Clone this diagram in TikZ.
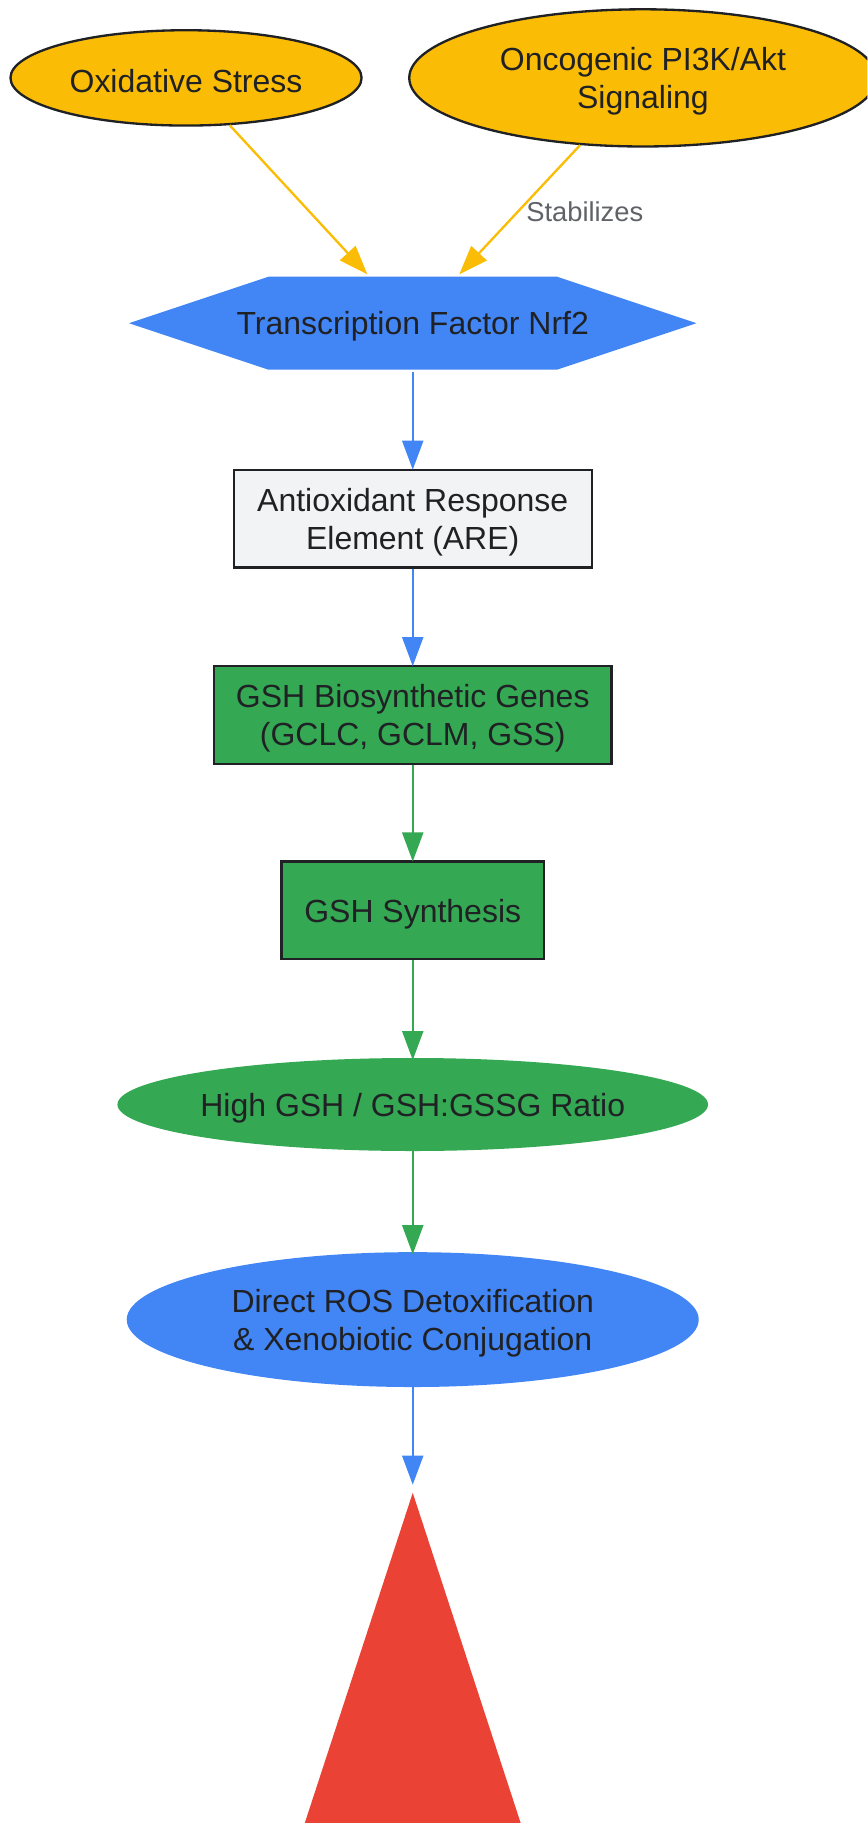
\documentclass[tikz,border=0pt]{standalone}
\usepackage{fontspec}
\setmainfont{Liberation Sans}
\usetikzlibrary{arrows.meta,shapes.geometric}
\definecolor{gyellow}{HTML}{FBBC05}
\definecolor{gblue}{HTML}{4285F4}
\definecolor{ggreen}{HTML}{34A853}
\definecolor{gred}{HTML}{EA4335}
\definecolor{glight}{HTML}{F1F3F4}
\definecolor{gdark}{HTML}{202124}
\definecolor{ggray}{HTML}{5F6368}
\begin{document}
\begin{tikzpicture}[x=1pt,y=-1pt,
  lbl/.style={font=\fontsize{27.5}{33}\selectfont, text=gdark, align=center, inner sep=0pt},
  ell/.style={ellipse, inner sep=0pt},
  boxn/.style={rectangle, inner sep=0pt, minimum height=84pt},
  bord/.style={draw=gdark, line width=2pt},
  conn/.style={line width=2pt, -{Triangle[length=25pt,width=18pt]}},
  elab/.style={font=\fontsize{23.5}{28}\selectfont, text=ggray}]
\useasboundingbox (0,0) rectangle (746,1568);
\clip (0,0) rectangle (746,1568);
% shapes
\node[ell, bord, fill=gyellow, minimum width=302pt, minimum height=82pt] (ox) at (160,67) {};
\node[ell, bord, fill=gyellow, minimum width=402pt, minimum height=118pt] (onc) at (553,67) {};
\fill[gblue] (111,278) -- (231,238) -- (479,238) -- (599,278) -- (479,318) -- (231,318) -- cycle;
\node[boxn, minimum width=248pt, minimum height=80pt] (nrf) at (355,278) {};
\node[boxn, bord, fill=glight, minimum width=308pt] (are) at (355,446) {};
\node[boxn, bord, fill=ggreen, minimum width=342pt] (genes) at (355,615) {};
\node[boxn, bord, fill=ggreen, minimum width=226pt] (synth) at (355,783) {};
\node[ell, fill=ggreen, minimum width=508pt, minimum height=80pt] (ratio) at (355,950) {};
\node[ell, fill=gblue, minimum width=492pt, minimum height=116pt] (ros) at (355,1135) {};
\fill[gred] (355,1284) -- (491,1700) -- (219,1700) -- cycle;
% texts
\node[lbl] (oxT) at ([yshift=-3pt]ox.center) {Oxidative Stress};
\node[lbl] (oncT) at ([yshift=-3pt]onc.center) {Oncogenic PI3K/Akt\\Signaling};
\node[lbl] (nrfT) at ([yshift=-3pt]nrf.center) {Transcription Factor Nrf2};
\node[lbl] (areT) at ([yshift=-3pt]are.center) {Antioxidant Response\\Element (ARE)};
\node[lbl] (genesT) at ([yshift=-3pt]genes.center) {GSH Biosynthetic Genes\\(GCLC, GCLM, GSS)};
\node[lbl] (synthT) at ([yshift=-3pt]synth.center) {GSH Synthesis};
\node[lbl] (ratioT) at ([yshift=-3pt]ratio.center) {High GSH / GSH:GSSG Ratio};
\node[lbl] (rosT) at ([yshift=-3pt]ros.center) {Direct ROS Detoxification\\\&\ Xenobiotic Conjugation};
\coordinate (nrfL) at (316,236);
\coordinate (nrfR) at (395,236);
\coordinate (triTop) at (355,1277);
% connectors
\draw[conn, gyellow] (ox) -- (nrfL);
\draw[conn, gyellow] (onc) -- (nrfR);
\node[elab] (stab) at (503,182) {Stabilizes};
\draw[conn, gblue] (nrf.south) ++(0,2) -- ([yshift=-1pt]are.north);
\draw[conn, gblue] (are.south) -- ([yshift=-1pt]genes.north);
\draw[conn, ggreen] (genes.south) -- ([yshift=-1pt]synth.north);
\draw[conn, ggreen] (synth.south) -- ([yshift=-2pt]ratio.north);
\draw[conn, ggreen] ([yshift=2pt]ratio.south) -- ([yshift=-2pt]ros.north);
\draw[conn, gblue] ([yshift=2pt]ros.south) -- (triTop);
\end{tikzpicture}
\end{document}
